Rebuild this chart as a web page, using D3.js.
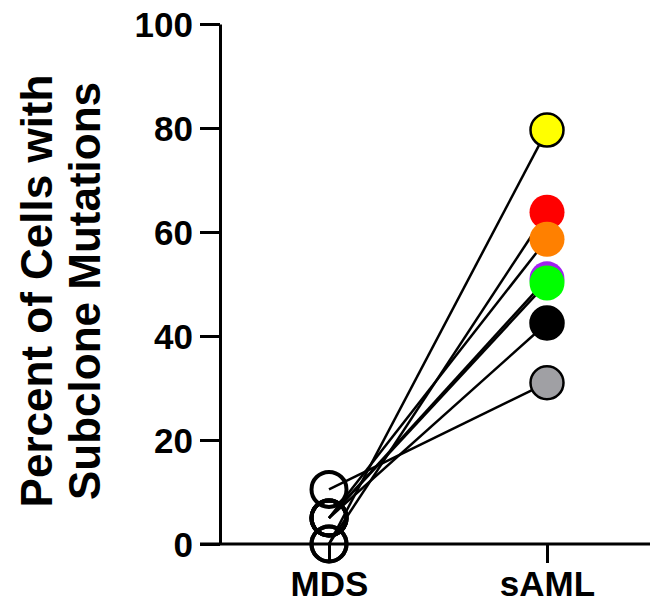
<!DOCTYPE html>
<html>
<head>
<meta charset="utf-8">
<script src="https://cdn.jsdelivr.net/npm/d3@7"></script>
<style>
  body { margin: 0; background: #fff; }
  svg text { font-family: "Liberation Sans", Arial, sans-serif; font-weight: bold; fill: #000; }
</style>
</head>
<body>
<div id="chart"></div>
<script>
// paired values: one line per patient, MDS -> sAML
var categories = ["MDS", "sAML"];
var patients   = ["yellow", "red", "orange", "purple", "green", "black", "gray"];
var mdsValues  = [0, 0, 5, 5, 5, 5, 10.5];
var samlValues = [79.6, 63.8, 58.6, 51, 50.2, 42.5, 31];
var fills      = ["#ffff00", "#ff0000", "#ff8000", "#a020f0", "#00ff00", "#000000", "#a0a0a4"];
var outlined   = [true, false, false, false, false, true, true];
var yTicks     = [0, 20, 40, 60, 80, 100];

var w = 650, h = 603;

var svg = d3.select("#chart")
	.append("svg")
	.attr("width", w)
	.attr("height", h);

var y = d3.scaleLinear().domain([0, 100]).range([544, 24]);
var x = d3.scalePoint().domain(categories).range([329, 547]);

// y axis
var yAxis = svg.append("g")
	.attr("transform", "translate(220,0)")
	.call(d3.axisLeft(y).tickValues(yTicks).tickSize(20).tickPadding(7).tickSizeOuter(0));
yAxis.select(".domain").attr("stroke-width", 3);
yAxis.selectAll(".tick line").attr("stroke-width", 3);
yAxis.selectAll(".tick text").style("font-size", "35px").attr("dy", "0.36em");

// x axis
var xAxis = svg.append("g")
	.attr("transform", "translate(0," + y(0) + ")")
	.call(d3.axisBottom(x).tickSize(19).tickSizeOuter(0));
xAxis.select(".domain").attr("d", "M200,0H650").attr("stroke-width", 3);
xAxis.selectAll(".tick line").attr("stroke-width", 3);
xAxis.selectAll(".tick text").style("font-size", "35px").attr("y", 52).attr("dy", 0);

// y title, two lines
var title = svg.append("text")
	.attr("transform", "translate(0,291) rotate(-90)")
	.attr("text-anchor", "middle")
	.style("font-size", "44px");
title.append("tspan").attr("x", 0).attr("y", 52).text("Percent of Cells with");
title.append("tspan").attr("x", 0).attr("y", 100).text("Subclone Mutations");

var pairs = patients.map(function(p, i) {
	return { name: p, mds: mdsValues[i], saml: samlValues[i], fill: fills[i], outlined: outlined[i] };
});

// connecting lines
svg.selectAll("line.pair")
	.data(pairs)
	.enter()
	.append("line")
	.classed("pair", true)
	.attr("x1", x("MDS"))
	.attr("y1", function(d) { return y(d.mds); })
	.attr("x2", x("sAML"))
	.attr("y2", function(d) { return y(d.saml); })
	.attr("stroke", "#000")
	.attr("stroke-width", 2.5);

// open MDS circles
svg.selectAll("circle.mds")
	.data(pairs)
	.enter()
	.append("circle")
	.classed("mds", true)
	.attr("cx", x("MDS"))
	.attr("cy", function(d) { return y(d.mds); })
	.attr("r", 17.5)
	.attr("fill", "none")
	.attr("stroke", "#000")
	.attr("stroke-width", 4);

// filled sAML circles
svg.selectAll("circle.saml")
	.data(pairs)
	.enter()
	.append("circle")
	.classed("saml", true)
	.attr("cx", x("sAML"))
	.attr("cy", function(d) { return y(d.saml); })
	.attr("r", function(d) { return d.outlined ? 16.5 : 17.5; })
	.attr("fill", function(d) { return d.fill; })
	.attr("stroke", function(d) { return d.outlined ? "#000" : "none"; })
	.attr("stroke-width", 2.5);
</script>
</body>
</html>
